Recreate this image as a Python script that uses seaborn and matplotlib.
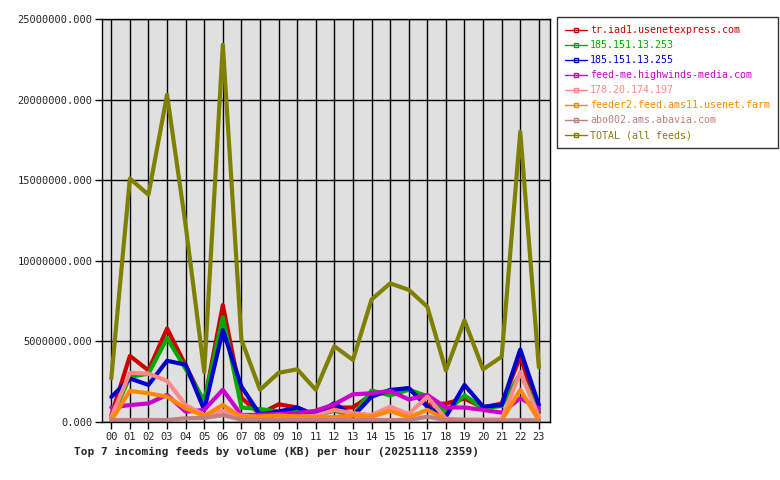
import pandas as pd
import seaborn as sns
import matplotlib.pyplot as plt
from matplotlib.lines import Line2D

hours = [f"{h:02d}" for h in range(24)]

feeds = ["tr.iad1.usenetexpress.com", "185.151.13.253", "185.151.13.255",
         "feed-me.highwinds-media.com", "178.20.174.197",
         "feeder2.feed.ams11.usenet.farm", "abo002.ams.abavia.com", "TOTAL (all feeds)"]
colors = ["#cc0000", "#00aa00", "#0000cc", "#cc00cc", "#ff8888", "#ff8800", "#c08080", "#808000"]

# KB per hour
tr_iad1 = [400000, 4100000, 3200000, 5800000, 3500000, 1200000, 7250000, 1500000, 500000, 1100000,
           900000, 400000, 900000, 900000, 1700000, 1900000, 2100000, 1050000, 1150000, 1450000,
           900000, 1150000, 4050000, 600000]
ip_253 = [250000, 2800000, 3000000, 5200000, 3300000, 1300000, 6500000, 900000, 800000, 650000,
          700000, 400000, 700000, 400000, 1950000, 1650000, 2000000, 1600000, 600000, 1650000,
          850000, 1000000, 3000000, 750000]
ip_255 = [1550000, 2700000, 2300000, 3800000, 3550000, 750000, 5700000, 2200000, 450000, 650000,
          900000, 400000, 1180000, 350000, 1570000, 1990000, 2100000, 950000, 330000, 2300000,
          950000, 1050000, 4500000, 1050000]
highwinds = [900000, 1050000, 1150000, 1680000, 640000, 750000, 2000000, 430000, 450000, 500000,
             550000, 700000, 1100000, 1720000, 1780000, 1930000, 1400000, 1680000, 900000, 900000,
             750000, 580000, 1470000, 850000]
ip_197 = [300000, 3050000, 3000000, 2550000, 1050000, 430000, 700000, 400000, 300000, 300000,
          300000, 400000, 750000, 550000, 430000, 950000, 500000, 1570000, 200000, 150000,
          150000, 150000, 3100000, 300000]
ams11 = [100000, 1930000, 1780000, 1570000, 850000, 370000, 1060000, 300000, 350000, 400000,
         350000, 300000, 300000, 400000, 330000, 680000, 300000, 750000, 150000, 100000,
         100000, 100000, 2000000, 100000]
abavia = [120000, 120000, 120000, 120000, 230000, 250000, 430000, 150000, 150000, 120000,
          120000, 120000, 120000, 120000, 120000, 120000, 120000, 330000, 120000, 100000,
          100000, 100000, 120000, 100000]
total = [2700000, 15100000, 14100000, 20300000, 12200000, 3100000, 23400000, 5100000, 2000000, 3050000,
         3270000, 2000000, 4700000, 3850000, 7600000, 8600000, 8200000, 7150000, 3200000, 6300000,
         3270000, 4050000, 18000000, 3400000]

series = [tr_iad1, ip_253, ip_255, highwinds, ip_197, ams11, abavia, total]

rows = []
for name, vals in zip(feeds, series):
    for h, v in enumerate(vals):
        rows.append({"hour": h, "feed": name, "kb": v})
df = pd.DataFrame(rows)

sns.set_style("white")
plt.rcParams["font.family"] = ["DejaVu Sans Mono"]

fig = plt.figure(figsize=(7.8, 4.8), dpi=100)
ax = fig.add_axes([102 / 780, 58 / 480, 448 / 780, 403 / 480])
ax.set_facecolor("#e0e0e0")

sns.lineplot(data=df, x="hour", y="kb", hue="feed", hue_order=feeds, palette=colors,
             linewidth=3, legend=False, ax=ax)

ax.set_xlim(-0.5, 23.6)
ax.set_ylim(0, 25000000)
ax.set_xticks(range(24))
ax.set_xticklabels(hours)
ax.set_yticks(range(0, 25000001, 5000000))
ax.set_yticklabels([f"{v:.3f}" for v in range(0, 25000001, 5000000)])
ax.grid(True, color="black", linewidth=1)
ax.set_axisbelow(True)
ax.tick_params(axis="both", direction="out", length=5, width=1, color="black",
               labelsize=7.5, pad=2, bottom=True, left=True)
for s in ax.spines.values():
    s.set_color("black")
    s.set_linewidth(1)
ax.set_xlabel("")
ax.set_ylabel("")

handles = [Line2D([0], [0], color=c, linewidth=1, marker="s", markersize=3,
                  markerfacecolor="none", markeredgecolor=c) for c in colors]
leg = ax.legend(handles, feeds, loc="upper left", bbox_to_anchor=(557 / 780, 463 / 480),
                bbox_transform=fig.transFigure, fontsize=7.2, frameon=True, fancybox=False,
                handlelength=2.2, handletextpad=0.3, labelspacing=0.5, borderpad=0.8,
                borderaxespad=0)
leg.get_frame().set_edgecolor("black")
leg.get_frame().set_linewidth(1)
for t, c in zip(leg.get_texts(), colors):
    t.set_color(c)

fig.text(74 / 780, 1 - 452 / 480, "Top 7 incoming feeds by volume (KB) per hour (20251118 2359)",
         fontsize=8, fontweight="bold", va="center", ha="left")

fig.savefig("out.png", dpi=100)
